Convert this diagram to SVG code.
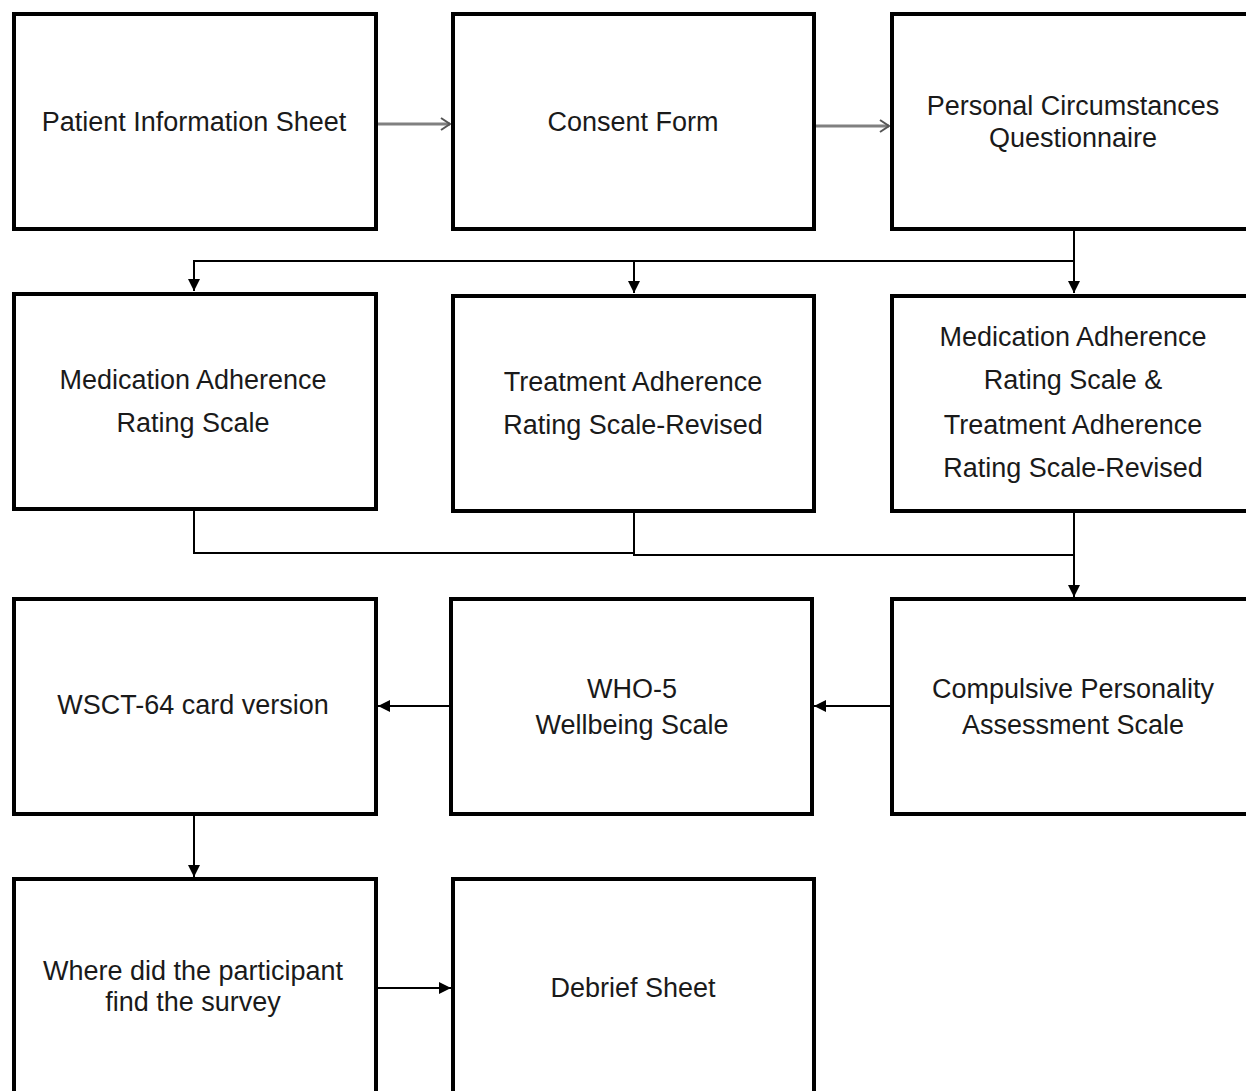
<svg xmlns="http://www.w3.org/2000/svg" width="1246" height="1091" viewBox="0 0 1246 1091">
<style>
.box{fill:#fff;stroke:#000;stroke-width:4}
.t{font-family:"Liberation Sans",Arial,sans-serif;font-size:27px;fill:#1a1a1a;text-anchor:middle}
.c{fill:none;stroke:#000;stroke-width:2}
.g{fill:none;stroke:#808080;stroke-width:3}
</style>
<defs>
<marker id="open" markerWidth="14" markerHeight="14" refX="11" refY="7" orient="auto" markerUnits="userSpaceOnUse">
<path d="M2,1 L11,7 L2,13" fill="none" stroke="#555" stroke-width="2"/>
</marker>
<marker id="solid" markerWidth="14" markerHeight="14" refX="12" refY="7" orient="auto" markerUnits="userSpaceOnUse">
<path d="M0,1 L12,7 L0,13 Z" fill="#000"/>
</marker>
</defs>
<rect width="1246" height="1091" fill="#fff"/>
<g id="connectors">
<line class="g" x1="377" y1="124" x2="450" y2="124" marker-end="url(#open)"/>
<line class="g" x1="815" y1="126" x2="889" y2="126" marker-end="url(#open)"/>
<polyline class="c" points="1074,230 1074,261 194,261 194,291" marker-end="url(#solid)"/>
<line class="c" x1="634" y1="261" x2="634" y2="293" marker-end="url(#solid)"/>
<line class="c" x1="1074" y1="261" x2="1074" y2="293" marker-end="url(#solid)"/>
<polyline class="c" points="194,510 194,553 634,553"/>
<polyline class="c" points="634,512 634,555 1074,555"/>
<line class="c" x1="1074" y1="512" x2="1074" y2="597" marker-end="url(#solid)"/>
<line class="c" x1="891" y1="706" x2="814" y2="706" marker-end="url(#solid)"/>
<line class="c" x1="450" y1="706" x2="378" y2="706" marker-end="url(#solid)"/>
<line class="c" x1="194" y1="815" x2="194" y2="877" marker-end="url(#solid)"/>
<line class="c" x1="377" y1="988" x2="451" y2="988" marker-end="url(#solid)"/>
</g>
<g id="n1"><rect class="box" x="14" y="14" width="362" height="215"/><text class="t" x="194" y="131">Patient Information Sheet</text></g>
<g id="n2"><rect class="box" x="453" y="14" width="361" height="215"/><text class="t" x="633" y="131">Consent Form</text></g>
<g id="n3"><rect class="box" x="892" y="14" width="370" height="215"/><text class="t" x="1073" y="115">Personal Circumstances</text><text class="t" x="1073" y="147">Questionnaire</text></g>
<g id="n4"><rect class="box" x="14" y="294" width="362" height="215"/><text class="t" x="193" y="389">Medication Adherence</text><text class="t" x="193" y="432">Rating Scale</text></g>
<g id="n5"><rect class="box" x="453" y="296" width="361" height="215"/><text class="t" x="633" y="391">Treatment Adherence</text><text class="t" x="633" y="434">Rating Scale-Revised</text></g>
<g id="n6"><rect class="box" x="892" y="296" width="370" height="215"/><text class="t" x="1073" y="346">Medication Adherence</text><text class="t" x="1073" y="389">Rating Scale &amp;</text><text class="t" x="1073" y="434">Treatment Adherence</text><text class="t" x="1073" y="477">Rating Scale-Revised</text></g>
<g id="n7"><rect class="box" x="14" y="599" width="362" height="215"/><text class="t" x="193" y="714">WSCT-64 card version</text></g>
<g id="n8"><rect class="box" x="451" y="599" width="361" height="215"/><text class="t" x="632" y="698">WHO-5</text><text class="t" x="632" y="734">Wellbeing Scale</text></g>
<g id="n9"><rect class="box" x="892" y="599" width="370" height="215"/><text class="t" x="1073" y="698">Compulsive Personality</text><text class="t" x="1073" y="734">Assessment Scale</text></g>
<g id="n10"><rect class="box" x="14" y="879" width="362" height="230"/><text class="t" x="193" y="980">Where did the participant</text><text class="t" x="193" y="1011">find the survey</text></g>
<g id="n11"><rect class="box" x="453" y="879" width="361" height="230"/><text class="t" x="633" y="997">Debrief Sheet</text></g>
</svg>
